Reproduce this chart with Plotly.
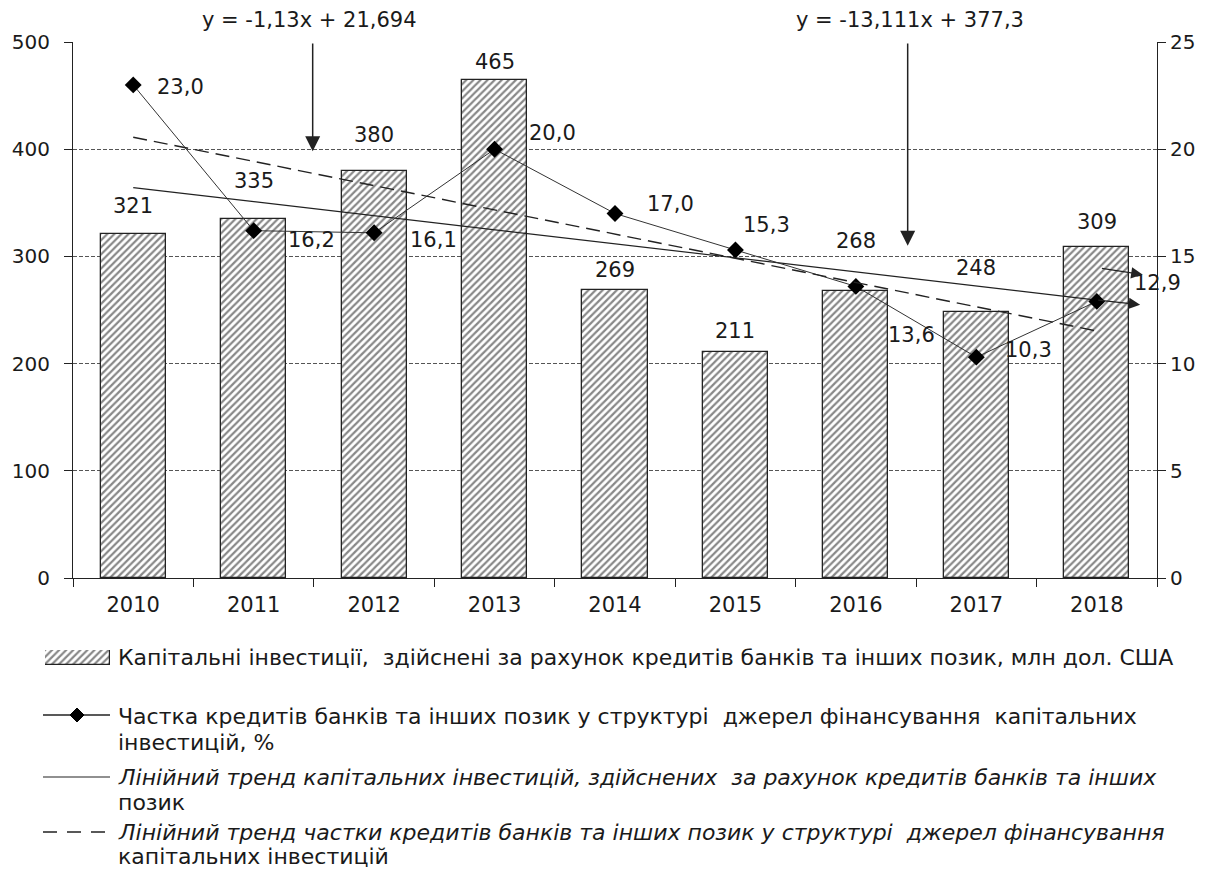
import plotly.graph_objects as go

#%% Data
years = ["2010", "2011", "2012", "2013", "2014", "2015", "2016", "2017", "2018"]
investments = [321, 335, 380, 465, 269, 211, 268, 248, 309]          # млн дол. США
credit_share = [23.0, 16.2, 16.1, 20.0, 17.0, 15.3, 13.6, 10.3, 12.9]  # %
trend_years = ["2010", "2018"]
trend_investments = [364.2, 259.3]
trend_share = [20.56, 11.52]

eq_share = "y = -1,13x + 21,694"
eq_invest = "y = -13,111x + 377,3"

legend_lines = [
    ["Капітальні інвестиції,  здійснені за рахунок кредитів банків та інших позик, млн дол. США"],
    ["Частка кредитів банків та інших позик у структурі  джерел фінансування  капітальних",
     "інвестицій, %"],
    ["<i>Лінійний тренд капітальних інвестицій, здійснених  за рахунок кредитів банків та інших</i>",
     "позик"],
    ["<i>Лінійний тренд частки кредитів банків та інших позик у структурі  джерел фінансування</i>",
     "капітальних інвестицій"],
]

#%% Label placement (pixels)
bar_label_shift = [28, 38, 36, 18, 20, 21, 50, 44, 25]
share_label_dx = [47, 58, 59, 58, 55, 31, 56, 52, 61]
share_label_dy = [-2, -9, -7, 16, 10, 25, -49, 7, 18]

FONT = "DejaVu Sans"
INK = "#1a1a1a"
W, H = 1202, 863


# page pixel -> paper coordinate (page has an 8px body margin)
def px(x):
    return (x - 8) / W


def py(y):
    return 1 - (y - 8) / H


hatch = dict(shape="/", fgcolor="#111", bgcolor="white", size=5, solidity=0.45)

fig = go.Figure()

fig.add_trace(go.Bar(
    x=years, y=investments, showlegend=False, width=0.54,
    marker=dict(color="white", line=dict(color="#222", width=1.3), pattern=hatch),
))
fig.add_trace(go.Scatter(
    x=years, y=credit_share, yaxis="y2", showlegend=False,
    mode="lines+markers",
    line=dict(color="#333", width=1),
    marker=dict(symbol="diamond", size=13, color="black"),
))
fig.add_trace(go.Scatter(
    x=trend_years, y=trend_investments, showlegend=False,
    mode="lines", line=dict(color="#222", width=1.2),
))
fig.add_trace(go.Scatter(
    x=trend_years, y=trend_share, yaxis="y2", showlegend=False,
    mode="lines", line=dict(color="#222", width=1.4, dash="14px,7px"),
))
# hatched swatch for the bar legend entry
fig.add_trace(go.Bar(
    x=[1], y=[0], orientation="h", width=1, xaxis="x3", yaxis="y3",
    showlegend=False, hoverinfo="skip",
    marker=dict(color="white", line=dict(color="#222", width=1.2), pattern=hatch),
))

annotations = []
for i, v in enumerate(investments):
    annotations.append(dict(x=i, y=v, xref="x", yref="y", text=str(v),
                            showarrow=False, yshift=bar_label_shift[i],
                            font=dict(family=FONT, size=21, color=INK)))
for i, v in enumerate(credit_share):
    annotations.append(dict(x=i, y=v, xref="x", yref="y2",
                            text=f"{v:.1f}".replace(".", ","),
                            showarrow=False, xshift=share_label_dx[i],
                            yshift=share_label_dy[i],
                            font=dict(family=FONT, size=21, color=INK)))

# trend equations with arrows
annotations += [
    dict(x=1.466, y=py(20), xref="x", yref="paper", text=eq_share, showarrow=False,
         yanchor="middle", font=dict(family=FONT, size=21, color=INK)),
    dict(x=6.45, y=py(20), xref="x", yref="paper", text=eq_invest, showarrow=False,
         yanchor="middle", font=dict(family=FONT, size=21, color=INK)),
    dict(x=1.49, y=398, xref="x", yref="y", ax=1.49, ay=500, axref="x", ayref="y",
         text="", showarrow=True, arrowhead=2, arrowsize=2, arrowwidth=1.5,
         arrowcolor="#222"),
    dict(x=6.43, y=310, xref="x", yref="y", ax=6.43, ay=500, axref="x", ayref="y",
         text="", showarrow=True, arrowhead=2, arrowsize=2, arrowwidth=1.5,
         arrowcolor="#222"),
    # arrow heads at the right end of the trend line and by the last label
    dict(x=8.36, y=255, xref="x", yref="y", ax=8.0, ay=259.3, axref="x", ayref="y",
         text="", showarrow=True, arrowhead=2, arrowsize=1.9, arrowwidth=1.2,
         arrowcolor="#222"),
    dict(x=8.38, y=283, xref="x", yref="y", ax=8.03, ay=289, axref="x", ayref="y",
         text="", showarrow=True, arrowhead=2, arrowsize=1.9, arrowwidth=1.2,
         arrowcolor="#222"),
]

# legend built by hand below the plot
legend_rows = [[657], [716, 742], [777, 802], [832, 856]]
for lines, rows in zip(legend_lines, legend_rows):
    for text, row in zip(lines, rows):
        annotations.append(dict(x=px(116), y=py(row), xref="paper", yref="paper",
                                text=text, showarrow=False, xanchor="left",
                                yanchor="middle",
                                font=dict(family=FONT, size=22, color=INK)))

shapes = [
    dict(type="line", xref="paper", yref="paper", x0=px(43), x1=px(110),
         y0=py(715), y1=py(715), line=dict(color="#222", width=1.4)),
    dict(type="path", xref="paper", yref="paper", xsizemode="pixel",
         ysizemode="pixel", xanchor=px(77), yanchor=py(715),
         path="M0,-7 L7,0 L0,7 L-7,0 Z", fillcolor="black",
         line=dict(color="black", width=1)),
    dict(type="line", xref="paper", yref="paper", x0=px(43), x1=px(110),
         y0=py(777), y1=py(777), line=dict(color="#222", width=1.2)),
    dict(type="line", xref="paper", yref="paper", x0=px(43), x1=px(110),
         y0=py(832), y1=py(832),
         line=dict(color="#222", width=1.4, dash="14px,10px")),
]

fig.update_layout(
    width=W, height=H,
    margin=dict(l=0, r=0, t=0, b=0, autoexpand=False),
    paper_bgcolor="white", plot_bgcolor="white",
    font=dict(family=FONT, size=20, color=INK),
    showlegend=False,
    bargap=0,
    xaxis=dict(type="category", categoryorder="array", categoryarray=years,
               domain=[px(73), px(1157)],
               range=[-0.5, 8.5], tickson="boundaries", ticks="outside",
               ticklen=8, tickcolor="#222", showline=True, linecolor="#222",
               linewidth=1.2, showgrid=False, ticklabelstandoff=8,
               tickfont=dict(family=FONT, size=21, color=INK)),
    yaxis=dict(range=[0, 500], dtick=100, domain=[py(578), py(42)],
               showline=True, linecolor="#222",
               linewidth=1.2, ticks="outside", ticklen=8, tickcolor="#222",
               showgrid=True, gridcolor="#555", griddash="4px,2px", gridwidth=1,
               zeroline=False, ticklabelstandoff=10,
               tickfont=dict(family=FONT, size=20, color=INK)),
    yaxis2=dict(range=[0, 25], dtick=5, overlaying="y", side="right",
                showline=True, linecolor="#222", linewidth=1.2, ticks="outside",
                ticklen=8, tickcolor="#222", showgrid=False, zeroline=False,
                tickfont=dict(family=FONT, size=20, color=INK)),
    xaxis3=dict(domain=[px(45), px(110)], range=[0, 1], visible=False,
                anchor="y3", fixedrange=True),
    yaxis3=dict(domain=[py(665), py(650)], range=[-0.5, 0.5], visible=False,
                anchor="x3", fixedrange=True),
    annotations=annotations,
    shapes=shapes,
)

fig.write_html("out.html")
